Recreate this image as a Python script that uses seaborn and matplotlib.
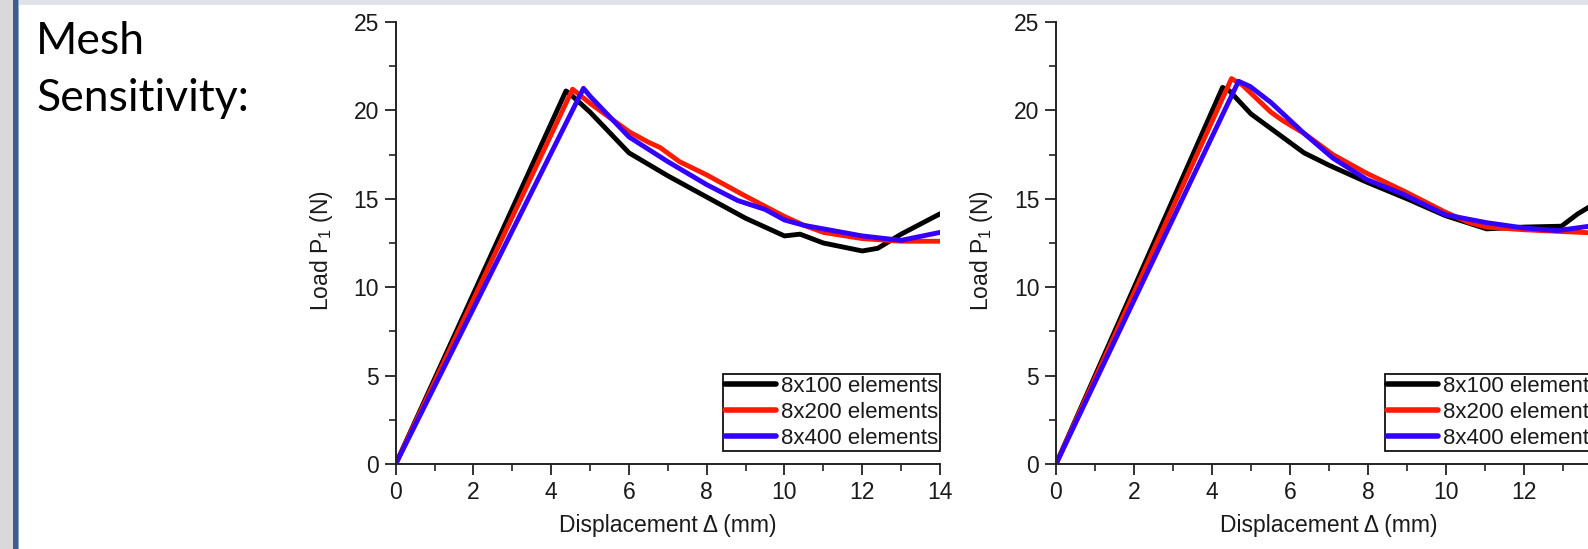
import matplotlib
matplotlib.use("Agg")
import matplotlib.pyplot as plt
from matplotlib.patches import Rectangle
from matplotlib.ticker import MultipleLocator
import numpy as np
import pandas as pd
import seaborn as sns

# ---- data: load vs displacement for three mesh densities, two models ----
mesh_labels = ["8x100 elements", "8x200 elements", "8x400 elements"]
mesh_colors = ["#000000", "#ff1a00", "#3300ff"]

# left panel
left_100_x = [0, 4.38, 4.5, 5.0, 6.0, 7.0, 8.0, 9.0, 9.5, 10.0, 10.4, 11.0, 12.0, 12.4, 13.0, 14.0]
left_100_y = [0, 21.1, 20.9, 19.9, 17.6, 16.3, 15.1, 13.9, 13.4, 12.9, 13.0, 12.5, 12.05, 12.2, 13.0, 14.15]
left_200_x = [0, 4.55, 5.0, 6.0, 6.5, 6.8, 7.3, 8.0, 9.0, 10.0, 10.5, 11.0, 12.0, 13.0, 14.0]
left_200_y = [0, 21.2, 20.4, 18.8, 18.2, 17.9, 17.1, 16.35, 15.15, 14.0, 13.5, 13.1, 12.75, 12.6, 12.6]
left_400_x = [0, 4.83, 5.0, 6.0, 7.0, 8.0, 8.8, 9.5, 10.0, 10.5, 11.0, 12.0, 13.0, 14.0]
left_400_y = [0, 21.25, 20.8, 18.5, 17.1, 15.8, 14.9, 14.4, 13.8, 13.5, 13.3, 12.9, 12.65, 13.1]

# right panel
right_100_x = [0, 4.27, 4.45, 5.0, 6.36, 7.0, 7.96, 9.0, 9.98, 11.04, 12.0, 12.96, 13.38, 13.68, 14.0]
right_100_y = [0, 21.3, 21.1, 19.8, 17.6, 16.9, 15.95, 15.0, 14.05, 13.3, 13.4, 13.45, 14.15, 14.55, 15.0]
right_200_x = [0, 4.5, 4.77, 5.51, 5.83, 6.36, 7.1, 7.96, 8.91, 9.98, 10.6, 11.04, 12.0, 12.96, 14.0]
right_200_y = [0, 21.8, 21.45, 19.9, 19.4, 18.7, 17.5, 16.45, 15.45, 14.25, 13.65, 13.4, 13.25, 13.15, 13.05]
right_400_x = [0, 4.68, 4.98, 5.51, 6.36, 7.1, 7.96, 8.91, 9.98, 11.04, 12.0, 12.85, 13.68, 14.0]
right_400_y = [0, 21.65, 21.35, 20.45, 18.7, 17.3, 16.1, 15.25, 14.1, 13.65, 13.35, 13.2, 13.45, 13.55]

x_ticks = [0, 2, 4, 6, 8, 10, 12, 14]
y_ticks = [0, 5, 10, 15, 20, 25]


def long_frame(xs, ys):
    parts = []
    for label, x, y in zip(mesh_labels, xs, ys):
        parts.append(pd.DataFrame({"disp": x, "load": y, "mesh": label}))
    return pd.concat(parts, ignore_index=True)


left_df = long_frame([left_100_x, left_200_x, left_400_x],
                     [left_100_y, left_200_y, left_400_y])
right_df = long_frame([right_100_x, right_200_x, right_400_x],
                      [right_100_y, right_200_y, right_400_y])

# ---- style ----
sns.set_theme(style="ticks")
plt.rcParams["font.family"] = ["Liberation Sans", "DejaVu Sans"]
plt.rcParams["mathtext.fontset"] = "custom"
plt.rcParams["mathtext.rm"] = "Liberation Sans"
plt.rcParams["mathtext.it"] = "Liberation Sans:italic"
plt.rcParams["mathtext.bf"] = "Liberation Sans:bold"

W, H = 1588, 549
fig = plt.figure(figsize=(W / 100, H / 100), dpi=100)
fig.patch.set_facecolor("white")


def px_rect(x, y, w, h, color):
    fig.add_artist(Rectangle((x / W, 1 - (y + h) / H), w / W, h / H,
                             transform=fig.transFigure, facecolor=color,
                             edgecolor="none", zorder=0))


# slide frame
px_rect(0, 0, 13, H, "#d9d9d9")
px_rect(13, 0, 5, H, "#3a5e8e")
px_rect(18, 0, 1.2, H, "#8ea9cc")
px_rect(19, 0, W - 19, 5, "#dfe3e8")

fig.text(36 / W, 1 - 54 / H, "Mesh", fontsize=32, family=["Lato", "DejaVu Sans"],
         ha="left", va="baseline", color="#000000")
fig.text(36 / W, 1 - 111 / H, "Sensitivity:", fontsize=32, family=["Lato", "DejaVu Sans"],
         ha="left", va="baseline", color="#000000")

TXT = "#1a1a1a"
FS = 16.5
LEG_FS = 16


def panel(left_px, width_px, df):
    ax = fig.add_axes([left_px / W, (H - 464) / H, width_px / W, 442 / H])
    sns.lineplot(data=df, x="disp", y="load", hue="mesh", palette=mesh_colors,
                 hue_order=mesh_labels, sort=False, estimator=None,
                 linewidth=3.5, ax=ax)
    ax.set_xlim(0, 14)
    ax.set_ylim(0, 25)
    ax.set_xticks(x_ticks)
    ax.set_yticks(y_ticks)
    ax.xaxis.set_minor_locator(MultipleLocator(1))
    ax.yaxis.set_minor_locator(MultipleLocator(2.5))
    ax.tick_params(which="major", length=8, width=1.3, color="#222222",
                   labelsize=FS, labelcolor=TXT, pad=4)
    ax.tick_params(which="minor", length=5, width=1.2, color="#222222")
    sns.despine(ax=ax)
    for s in ("left", "bottom"):
        ax.spines[s].set_linewidth(1.4)
        ax.spines[s].set_color("#222222")
    ax.set_facecolor("white")
    ax.set_xlabel("Displacement \u0394 (mm)", fontsize=FS, color=TXT, va="center")
    ax.set_ylabel(r"Load P$_\mathregular{1}$ (N)", fontsize=FS, color=TXT, va="center")
    ax.xaxis.set_label_coords(0.5, -0.139)
    ax.yaxis.set_label_coords(-0.136, 0.483)
    handles, labels = ax.get_legend_handles_labels()
    leg = ax.legend(handles, labels, loc="lower right",
                    bbox_to_anchor=(1.0, 13 / 442), borderaxespad=0,
                    fontsize=LEG_FS, frameon=True, fancybox=False,
                    edgecolor="#111111", framealpha=1, borderpad=0.1,
                    handlelength=2.3, handletextpad=0.2, labelspacing=0.22)
    leg.get_frame().set_linewidth(1.3)
    for t in leg.get_texts():
        t.set_color(TXT)
    for ln in leg.get_lines():
        ln.set_linewidth(4)
    return ax


panel(395.7, 544.3, left_df)
panel(1056, 546, right_df)

fig.savefig("out.png", dpi=100)
